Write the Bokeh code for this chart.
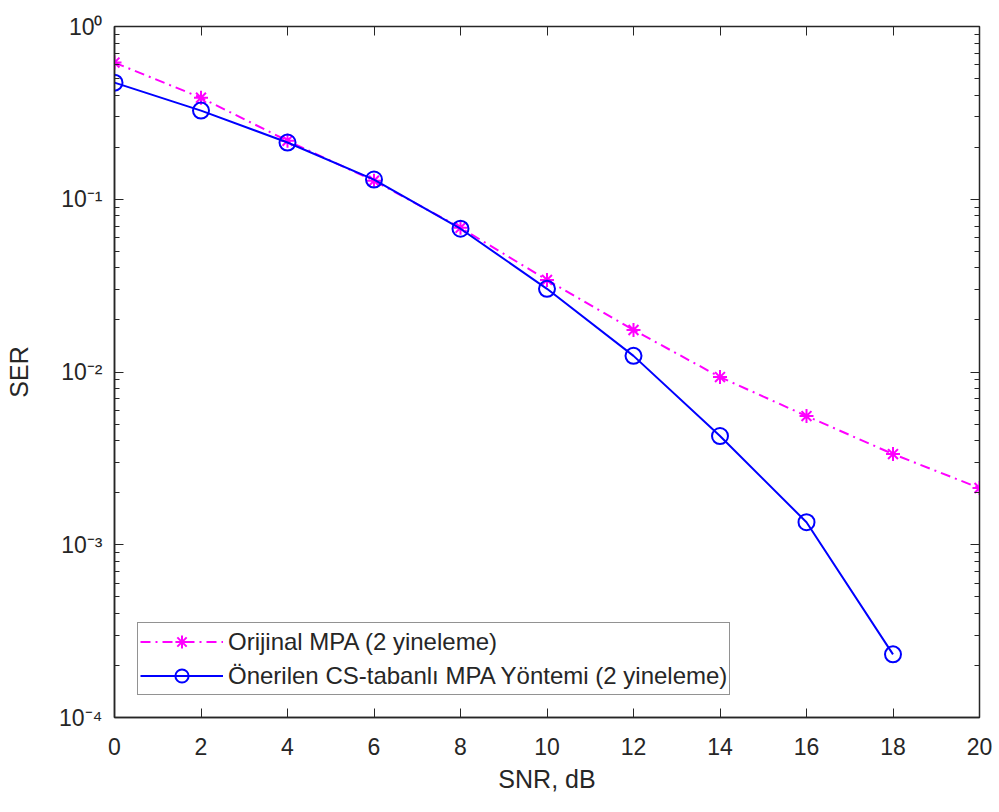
from bokeh.plotting import figure
from bokeh.models import (Range1d, FixedTicker, LogTicker, LinearAxis, LogAxis, Legend,
                          CustomJSTickFormatter)
from bokeh.embed import file_html
from bokeh.resources import INLINE

snr = [0, 2, 4, 6, 8, 10, 12, 14, 16, 18, 20]
ser_original = [0.618, 0.387, 0.218, 0.128, 0.0684, 0.0341, 0.0175, 0.00935, 0.00556, 0.00335, 0.00213]
snr_proposed = [0, 2, 4, 6, 8, 10, 12, 14, 16, 18]
ser_proposed = [0.473, 0.326, 0.213, 0.130, 0.0675, 0.0303, 0.0124, 0.00426, 0.00135, 0.000232]
x_ticks = [0, 2, 4, 6, 8, 10, 12, 14, 16, 18, 20]
y_tick_labels = {1e-4: "10\u207b\u2074", 1e-3: "10\u207b\u00b3", 1e-2: "10\u207b\u00b2",
                 1e-1: "10\u207b\u00b9", 1e0: "10\u2070"}
label_orig = "Orijinal MPA (2 yineleme)"
label_prop = "Önerilen CS-tabanlı MPA Yöntemi (2 yineleme)"

FONT = "Liberation Sans"
TXT = "#262626"

p = figure(width=995, height=808, y_axis_type="log",
           x_range=Range1d(0, 20), y_range=Range1d(1e-4, 1),
           output_backend="svg", toolbar_location=None,
           min_border_left=114, min_border_top=26, min_border_right=16, min_border_bottom=91,
           background_fill_color="white", border_fill_color="white")
p.grid.visible = False
p.outline_line_color = TXT
p.outline_line_width = 1.5

xa = p.xaxis[0]
xa.ticker = FixedTicker(ticks=x_ticks)
xa.axis_label = "SNR, dB"
ya = p.yaxis[0]
ya.ticker = LogTicker(num_minor_ticks=10, desired_num_ticks=5)
ya.major_label_overrides = y_tick_labels
ya.axis_label = "SER"

for ax in (xa, ya):
    ax.axis_line_color = TXT
    ax.axis_line_width = 1.5
    ax.major_tick_in = 9
    ax.major_tick_out = 0
    ax.minor_tick_in = 5
    ax.minor_tick_out = 0
    ax.major_tick_line_color = TXT
    ax.minor_tick_line_color = TXT
    ax.major_label_text_font = FONT
    ax.major_label_text_font_size = "23px"
    ax.major_label_text_color = TXT
    ax.axis_label_text_font = FONT
    ax.axis_label_text_font_size = "25px"
    ax.axis_label_text_font_style = "normal"
    ax.axis_label_text_color = TXT
xa.minor_tick_line_color = None
xa.major_label_standoff = 20
xa.axis_label_standoff = 7
ya.major_label_standoff = 12
ya.axis_label_standoff = 23

blank = CustomJSTickFormatter(code="return ''")
top = LinearAxis(ticker=FixedTicker(ticks=x_ticks), formatter=blank)
right = LogAxis(ticker=LogTicker(num_minor_ticks=10, desired_num_ticks=5), formatter=blank)
for ax in (top, right):
    ax.axis_line_color = TXT
    ax.major_tick_in = 9
    ax.major_tick_out = 0
    ax.minor_tick_in = 5
    ax.minor_tick_out = 0
    ax.major_tick_line_color = TXT
    ax.minor_tick_line_color = TXT
    ax.major_label_text_color = None
    ax.major_label_standoff = 0
top.minor_tick_line_color = None
p.add_layout(top, "above")
p.add_layout(right, "right")

MAG = "#FF00FF"
BLU = "#0000FF"
l1 = p.line(snr, ser_original, line_color=MAG, line_width=2, line_dash="10 5 2 5")
s1 = p.scatter(snr, ser_original, marker="asterisk", size=14, line_color=MAG, line_width=2)
l2 = p.line(snr_proposed, ser_proposed, line_color=BLU, line_width=2)
s2 = p.scatter(snr_proposed, ser_proposed, marker="circle", size=16, line_color=BLU,
               fill_color=None, line_width=2)

legend = Legend(items=[(label_orig, [l1, s1]), (label_prop, [l2, s2])],
                location=(23, 22), margin=0, padding=2, spacing=1,
                glyph_width=83, glyph_height=33, label_height=33, label_standoff=5,
                label_text_font=FONT, label_text_font_size="24px", label_text_color=TXT,
                border_line_color=TXT, border_line_width=1.5,
                background_fill_color="white", background_fill_alpha=1)
p.add_layout(legend, "center")

open("out.html", "w").write(file_html(p, INLINE))
